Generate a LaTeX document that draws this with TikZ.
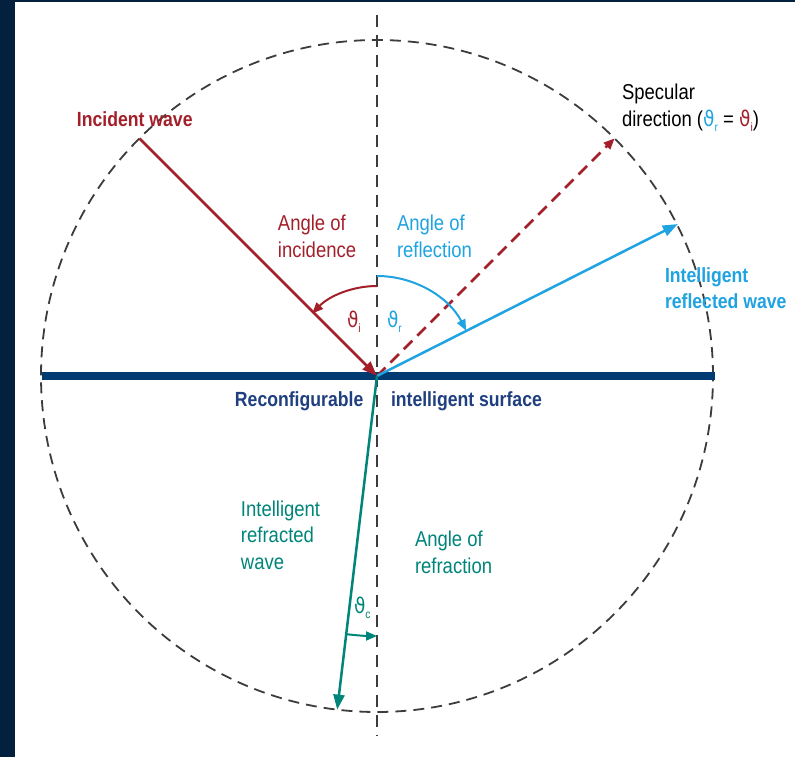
\documentclass[tikz,border=0pt]{standalone}
\usepackage{fontspec}
\setmainfont{Liberation Sans}[FakeStretch=0.86]
\newfontfamily\dvfont{DejaVu Sans}[FakeStretch=0.86]
\usetikzlibrary{arrows.meta}
\definecolor{rred}{HTML}{A3202A}
\definecolor{rblue}{HTML}{1FA3E1}
\definecolor{rteal}{HTML}{00857A}
\definecolor{rnavy}{HTML}{003B71}
\definecolor{rtext}{HTML}{1F3F7F}
\definecolor{rframe}{HTML}{03213F}
\definecolor{dgray}{HTML}{3C3C3C}
\newcommand\thsym{{\dvfont ϑ}}
\newcommand\thsub[1]{\raisebox{-5pt}{\fontsize{12}{12}\selectfont #1}}
\tikzset{
  lbl/.style={inner sep=0pt, outer sep=0pt, anchor=north west, align=left, font=\fontsize{21.5}{26.5}\selectfont},
  blbl/.style={lbl, font=\fontsize{20.5}{25.5}\selectfont\bfseries},
  thl/.style={inner sep=0pt, outer sep=0pt, anchor=base west, font=\fontsize{21.5}{26}\selectfont},
  bigtip/.style={-{Triangle[length=15pt,width=11pt]}},
  smalltip/.style={-{Triangle[length=11pt,width=9pt]}},
  guide/.style={draw=dgray, line width=1.8pt, dash pattern=on 11pt off 7pt},
}
\begin{document}
\begin{tikzpicture}[x=1pt,y=1pt]
\useasboundingbox (-377,-381) rectangle (418,376);
\fill[white] (-377,-381) rectangle (418,376);
\fill[rframe] (-377,-381) rectangle (-362,376);
\fill[rframe] (-377,374) rectangle (418,376);

\coordinate (O) at (0,0);
\coordinate (T) at (0,361);
\coordinate (B) at (0,-360);
\coordinate (L) at (-335,0);
\coordinate (R) at (338,0);
\coordinate (Pi) at (135:336);
\coordinate (Ps) at (45:336);
\coordinate (Pr) at (26.8:337);
\coordinate (Pc) at (-96.8:336);

% guides
\draw[guide] (O) circle[radius=336];
\draw[guide, dash pattern=on 12pt off 8pt] (T) -- (B);

% surface
\draw[rnavy, line width=8pt] (L) -- (R);

% waves
\draw[rred, line width=2.5pt, dash pattern=on 12pt off 7pt, smalltip] (O) -- (Ps);
\draw[rblue, line width=2.5pt, bigtip] (O) -- (Pr);
\draw[rteal, line width=2.5pt, bigtip] (O) -- (Pc);
\draw[rred, line width=2.5pt, bigtip] (Pi) -- (O);

% angle arcs
\draw[rred, line width=2pt, smalltip] ([shift={(90:90)}]O) arc[start angle=90, end angle=136, radius=90];
\draw[rblue, line width=2pt, smalltip] ([shift={(90:100)}]O) arc[start angle=90, end angle=27, radius=100];
\draw[rteal, line width=2pt, smalltip] ([shift={(-96.8:260)}]O) arc[start angle=-96.8, end angle=-90, radius=260];

% labels
\node[blbl, text=rred] (inc) at (-300,264.3) {Incident wave};
\node[lbl] (spec) at (245,292) {Specular\\direction ({\color{rblue}\thsym\thsub{r}} = {\color{rred}\thsym\thsub{i}})};
\node[lbl, text=rred] (aoi) at (-99,160.6) {Angle of\\incidence};
\node[lbl, text=rblue] (aor) at (20,160.6) {Angle of\\reflection};
\node[thl, text=rred] (thi) at (-30,48) {\thsym\thsub{i}};
\node[thl, text=rblue] (thr) at (10,48) {\thsym\thsub{r}};
\node[thl, font=\fontsize{20.5}{25}\selectfont\bfseries, text=rtext] (ris1) at (-142,-31) {Reconfigurable};
\node[thl, font=\fontsize{20.5}{25}\selectfont\bfseries, text=rtext] (ris2) at (14,-31) {intelligent surface};
\node[blbl, text=rblue] (irw) at (288,108) {Intelligent\\reflected wave};
\node[lbl, text=rteal] (ifw) at (-136,-124.7) {Intelligent\\refracted\\wave};
\node[lbl, text=rteal] (aof) at (38,-155.4) {Angle of\\refraction};
\node[thl, text=rteal] (thc) at (-23,-237) {\thsym\thsub{c}};
\end{tikzpicture}
\end{document}
